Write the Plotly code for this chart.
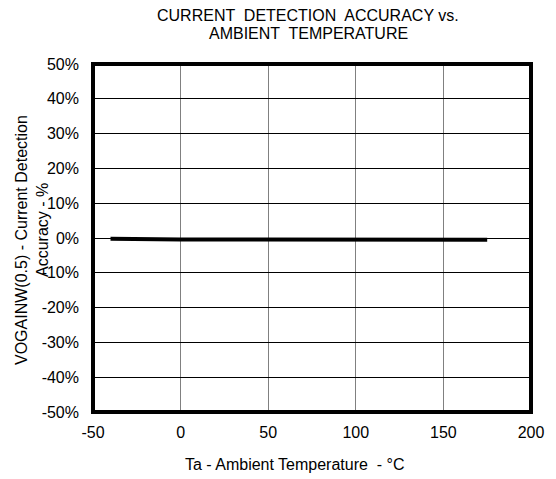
import plotly.graph_objects as go

temps = [-40, -25, 0, 25, 50, 75, 100, 125, 150, 175]
accuracy = [-0.2, -0.35, -0.4, -0.4, -0.45, -0.45, -0.5, -0.5, -0.5, -0.5]

x_ticks = [-50, 0, 50, 100, 150, 200]
x_tick_labels = ["-50", "0", "50", "100", "150", "200"]
y_ticks = [-50, -40, -30, -20, -10, 0, 10, 20, 30, 40, 50]
y_tick_labels = ["-50%", "-40%", "-30%", "-20%", "-10%", "0%", "10%", "20%", "30%", "40%", "50%"]

FONT = "Liberation Sans, Arial, sans-serif"

fig = go.Figure()
fig.add_trace(go.Scatter(x=temps, y=accuracy, mode="lines",
                         line=dict(color="black", width=4), showlegend=False))

fig.update_layout(
    width=548, height=471,
    margin=dict(l=85, r=23, t=56, b=67),
    paper_bgcolor="white", plot_bgcolor="white",
    font=dict(family=FONT, size=16, color="black"),
    xaxis=dict(range=[-50, 200], tickvals=x_ticks, ticktext=x_tick_labels, showgrid=True,
               gridcolor="#808080", gridwidth=1,
               showline=False, zeroline=False, ticks="", ticklabelstandoff=9,
               tickfont=dict(size=16)),
    yaxis=dict(range=[-50, 50], tickvals=y_ticks, ticktext=y_tick_labels, showgrid=True,
               gridcolor="black", gridwidth=1, showline=False, zeroline=False, ticks="",
               ticklabelstandoff=13, tickfont=dict(size=16)),
    shapes=[dict(type="rect", xref="paper", yref="paper", x0=0, x1=1, y0=0, y1=1,
                 line=dict(color="black", width=4), layer="above")],
    annotations=[
        dict(text="CURRENT  DETECTION  ACCURACY vs.", xref="paper", yref="paper",
             x=0.492, y=1, yshift=49, xanchor="center", yanchor="middle", showarrow=False,
             font=dict(size=16)),
        dict(text="AMBIENT  TEMPERATURE", xref="paper", yref="paper",
             x=0.492, y=1, yshift=31, xanchor="center", yanchor="middle", showarrow=False,
             font=dict(size=16)),
        dict(text="Ta - Ambient Temperature  - °C", xref="paper", yref="paper",
             x=0.461, y=0, yshift=-52, xanchor="center", yanchor="middle", showarrow=False,
             font=dict(size=16)),
        dict(text="VOGAINW(0.5) - Current Detection", xref="paper", yref="paper", textangle=-90,
             x=0, y=0.5, xshift=-72, yshift=-2, xanchor="center", yanchor="middle", showarrow=False,
             font=dict(size=16)),
        dict(text="Accuracy - %", xref="paper", yref="paper", textangle=-90,
             x=0, y=0.5, xshift=-51, yshift=8, xanchor="center", yanchor="middle", showarrow=False,
             font=dict(size=16)),
    ],
)

fig.write_html("out.html")
